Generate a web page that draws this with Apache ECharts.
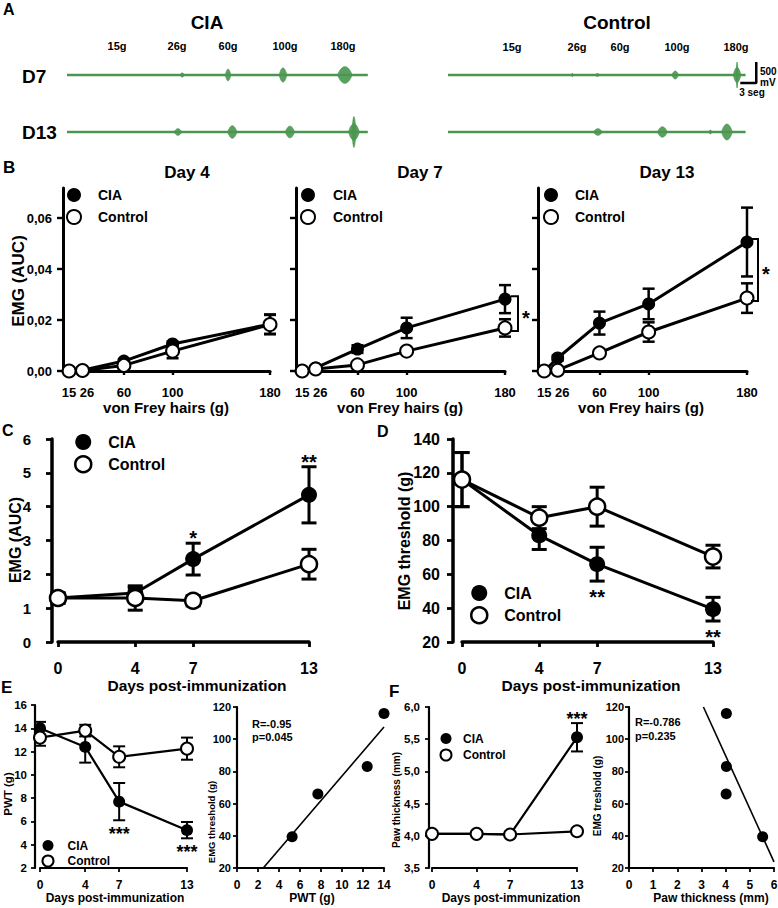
<!DOCTYPE html>
<html><head><meta charset="utf-8">
<script src="https://cdn.jsdelivr.net/npm/echarts@6/dist/echarts.min.js"></script>
<style>html,body{margin:0;padding:0;background:#fff}#c{width:778px;height:908px}</style>
</head><body><div id="c"></div>
<script>
// ================= DATA =================
// Panel A: EMG traces, bursts as [time (s), amplitude (mV), duration (s)]
const ciaTraceSec = 56.4;
const ctlTraceSec = 55.8;
const ciaD7Bursts  = [[21.6, 50, 0.8], [30.2, 140, 1.0], [40.5, 170, 1.4], [52.1, 200, 2.7]];
const ciaD13Bursts = [[20.8, 80, 1.4], [31.0, 150, 1.7], [41.8, 140, 1.7], [53.8, 200, 2.0], [53.8, 370, 0.7]];
const ctlD7Bursts  = [[23.3, 40, 0.3], [28.0, 35, 0.8], [42.6, 95, 1.2], [54.2, 180, 1.4], [54.2, 310, 0.35]];
const ctlD13Bursts = [[28.1, 80, 1.6], [40.2, 125, 1.8], [49.2, 45, 0.6], [52.3, 190, 2.0]];
const forceLabels = ['15g', '26g', '60g', '100g', '180g'];
const scaleBarSec = 3;
const scaleBarMv = 500;

// Panel B: EMG (AUC) vs von Frey hairs
const vonFrey = [15, 26, 60, 100, 180];
const bYTicks = [0, 0.02, 0.04, 0.06];
const day4CIA     = [0, 0.0003, 0.0039, 0.0106, 0.0184];
const day4CIASem  = [0, 0, 0.0007, 0.0010, 0.0038];
const day4Ctl     = [0, 0.0002, 0.0022, 0.0078, 0.0182];
const day4CtlSem  = [0, 0, 0.0005, 0.0028, 0.0038];
const day7CIA     = [0, 0.0012, 0.0086, 0.0169, 0.0282];
const day7CIASem  = [0, 0.0005, 0.0015, 0.0040, 0.0055];
const day7Ctl     = [0, 0.0008, 0.0024, 0.0078, 0.0169];
const day7CtlSem  = [0, 0, 0.0005, 0.0008, 0.0034];
const day13CIA    = [0, 0.0051, 0.0188, 0.0263, 0.0506];
const day13CIASem = [0, 0.0010, 0.0045, 0.0060, 0.0135];
const day13Ctl    = [0, 0.0003, 0.0071, 0.0153, 0.0286];
const day13CtlSem = [0, 0, 0.0008, 0.0038, 0.0058];

// Panels C-F: days post-immunization
const days = [0, 4, 7, 13];
const cCIA = [1.30, 1.45, 2.45, 4.35];
const cCIASem = [0.15, 0.15, 0.47, 0.83];
const cCtl = [1.30, 1.30, 1.22, 2.30];
const cCtlSem = [0.15, 0.36, 0.15, 0.44];
const cStars = ['', '', '*', '**'];

const dCIA = [116, 83, 66, 39.4];
const dCIASem = [16, 8.3, 10, 7];
const dCtl = [116, 93.5, 100, 70.5];
const dCtlSem = [16, 6.5, 11.5, 6.7];
const dStars = ['', '', '**', '**'];

const eCIA = [14.0, 12.4, 7.7, 5.25];
const eCIASem = [0.55, 1.35, 1.6, 0.7];
const eCtl = [13.2, 13.8, 11.55, 12.25];
const eCtlSem = [0.7, 0.5, 0.9, 0.95];
const eStars = ['', '', '***', '***'];

const fCIA = [4.03, 4.03, 4.02, 5.53];
const fCIASem = [0.02, 0.02, 0.02, 0.22];
const fCtl = [4.03, 4.03, 4.02, 4.07];
const fCtlSem = [0.02, 0.02, 0.02, 0.02];
const fStars = ['', '', '', '***'];

// correlations (x: PWT / paw thickness, y: EMG threshold of CIA group)
const regE = [[2.5, 20], [14, 107.6]];
const regF = [[3.08, 120], [6.0, 23.8]];
const corrE = ['R=-0.95', 'p=0.045'];
const corrF = ['R=-0.786', 'p=0.235'];

// ================= BUILD =================
const FONT = "'Liberation Sans', Arial, Helvetica, sans-serif";
const GREEN = '#4a9650';
const grids = [], xAxes = [], yAxes = [], series = [], graphics = [], legends = [];

function addGrid(rect, xa, ya) {
  const idx = grids.length;
  grids.push(Object.assign({containLabel: false, outerBoundsMode: 'none'}, rect));
  xAxes.push(Object.assign({gridIndex: idx}, xa));
  yAxes.push(Object.assign({gridIndex: idx}, ya));
  return idx;
}
function axis(o) {
  const a = {
    type: 'value', min: o.min, max: o.max, position: o.pos, offset: o.offset || 0,
    axisLine: {show: true, onZero: false, lineStyle: {color: '#000', width: o.lw}},
    axisTick: {show: true, inside: false, length: o.tl, lineStyle: {color: '#000', width: o.tw || o.lw * 0.8}},
    axisLabel: {show: o.labels !== false, color: '#000', fontFamily: FONT, fontWeight: 'bold', fontSize: o.fs,
      margin: o.margin, hideOverlap: false, showMinLabel: true, showMaxLabel: true},
    splitLine: {show: false}, silent: true
  };
  if (o.interval) a.interval = o.interval;
  if (o.ticks) { a.axisTick.customValues = o.ticks; a.axisLabel.customValues = o.ticks; }
  if (o.fmt) a.axisLabel.formatter = o.fmt;
  if (o.rich) a.axisLabel.rich = o.rich;
  return a;
}
function hidden(min, max) { return {type: 'value', min, max, show: false}; }
const comma = d => v => v.toFixed(d).replace('.', ',');

// ---- Panel A ----
function burstRender(params, api) {
  const t = api.value(0), amp = api.value(1), dur = api.value(2);
  const c = api.coord([t, 0]);
  const top = api.coord([t, amp]);
  const hw = api.size([dur, 0])[0] / 2;
  const h = c[1] - top[1];
  const pts = [], N = 14;
  for (let k = -N; k <= N; k++) { const u = k / N; pts.push([c[0] + u * hw, c[1] - h * Math.pow(1 - u * u, 0.9)]); }
  for (let k = N; k >= -N; k--) { const u = k / N; pts.push([c[0] + u * hw, c[1] + h * Math.pow(1 - u * u, 0.9)]); }
  return {type: 'polygon', shape: {points: pts}, style: {fill: GREEN, stroke: GREEN, lineWidth: 0.8, opacity: 0.9}};
}
function trace(rect, len, bursts) {
  const g = addGrid(rect, hidden(0, 60), hidden(-480, 480));
  series.push({type: 'line', xAxisIndex: g, yAxisIndex: g, data: [[0, 0], [len, 0]], symbol: 'none',
    lineStyle: {color: GREEN, width: 2.5}, silent: true, z: 2});
  series.push({type: 'custom', xAxisIndex: g, yAxisIndex: g, data: bursts, renderItem: burstRender, silent: true, z: 3});
  return g;
}
trace({left: 67, top: 55, width: 320, height: 40}, ciaTraceSec, ciaD7Bursts);
trace({left: 67, top: 112, width: 320, height: 40}, ciaTraceSec, ciaD13Bursts);
const gCtl7 = trace({left: 448, top: 55, width: 320, height: 40}, ctlTraceSec, ctlD7Bursts);
trace({left: 448, top: 112, width: 320, height: 40}, ctlTraceSec, ctlD13Bursts);
// scale bar
const sbT = ctlTraceSec - 1, sbV = -190;
series.push({type: 'line', xAxisIndex: gCtl7, yAxisIndex: gCtl7, symbol: 'none', silent: true,
  data: [[sbT, sbV], [sbT + scaleBarSec, sbV], [sbT + scaleBarSec, sbV + scaleBarMv]],
  lineStyle: {color: '#000', width: 2.5}, z: 4});

function txt(t, x, y, size, opt) {
  opt = opt || {};
  graphics.push({type: 'text', x, y, rotation: opt.rot || 0, silent: true,
    style: {text: t, fill: '#000', font: (opt.weight || 'bold') + ' ' + size + 'px ' + FONT,
      align: opt.align || 'center', verticalAlign: 'middle'}});
}
txt('A', 3, 9, 16, {align: 'left'});
txt('CIA', 207, 22, 19);
txt('Control', 617, 22, 19);
[117, 177, 228, 285, 343].forEach((x, i) => txt(forceLabels[i], x, 46, 11));
[512, 577, 620, 677, 736].forEach((x, i) => txt(forceLabels[i], x, 47, 11));
txt('D7', 22, 76, 19, {align: 'left'});
txt('D13', 22, 132, 19, {align: 'left'});
txt('500', 760, 71, 10, {align: 'left'});
txt('mV', 760, 82, 10, {align: 'left'});
txt('3 seg', 752, 92, 10);

// ---- helpers for group plots ----
function errRender(cap, lw) {
  return function (params, api) {
    const x = api.value(0), lo = api.value(1), hi = api.value(2);
    const a = api.coord([x, lo]), b = api.coord([x, hi]);
    const h = cap / 2, st = {stroke: '#000', lineWidth: lw};
    return {type: 'group', children: [
      {type: 'line', shape: {x1: a[0], y1: a[1], x2: b[0], y2: b[1]}, style: st},
      {type: 'line', shape: {x1: a[0] - h, y1: a[1], x2: a[0] + h, y2: a[1]}, style: st},
      {type: 'line', shape: {x1: b[0] - h, y1: b[1], x2: b[0] + h, y2: b[1]}, style: st}
    ]};
  };
}
function errData(xs, m, s) {
  const out = [];
  xs.forEach((x, i) => { if (s[i] > 0) out.push([x, m[i] - s[i], m[i] + s[i]]); });
  return out;
}
function group(g, xs, cia, ciaSem, ctl, ctlSem, st) {
  series.push({type: 'custom', xAxisIndex: g, yAxisIndex: g, data: errData(xs, cia, ciaSem), renderItem: errRender(st.cap, st.elw), silent: true, z: 2});
  series.push({type: 'custom', xAxisIndex: g, yAxisIndex: g, data: errData(xs, ctl, ctlSem), renderItem: errRender(st.cap, st.elw), silent: true, z: 2});
  series.push({type: 'line', name: 'CIA', xAxisIndex: g, yAxisIndex: g, data: xs.map((x, i) => [x, cia[i]]),
    symbol: 'circle', symbolSize: st.size, itemStyle: {color: '#000', opacity: 1}, lineStyle: {color: '#000', width: st.lw},
    clip: false, silent: true, z: 3});
  series.push({type: 'line', name: 'Control', xAxisIndex: g, yAxisIndex: g, data: xs.map((x, i) => [x, ctl[i]]),
    symbol: 'circle', symbolSize: st.size, itemStyle: {color: '#fff', borderColor: '#000', borderWidth: st.bw, opacity: 1},
    lineStyle: {color: '#000', width: st.lw}, clip: false, silent: true, z: 4});
}
function stars(g, xs, m, s, labels, dir, gap, fs) {
  series.push({type: 'custom', xAxisIndex: g, yAxisIndex: g, silent: true, z: 5,
    data: xs.map((x, i) => [x, dir === 'above' ? m[i] + s[i] : m[i] - s[i]]),
    renderItem: function (params, api) {
      const lab = labels[params.dataIndex];
      if (!lab) return null;
      const p = api.coord([api.value(0), api.value(1)]);
      return {type: 'text', x: p[0], y: p[1] + (dir === 'above' ? -gap : gap),
        style: {text: lab, fill: '#000', font: 'bold ' + fs + 'px ' + FONT, align: 'center', verticalAlign: 'middle'}};
    }});
}
function bracket(g, x, a, b, dx, fs) {
  series.push({type: 'custom', xAxisIndex: g, yAxisIndex: g, silent: true, z: 5, data: [[x, a, b]],
    renderItem: function (params, api) {
      const p1 = api.coord([api.value(0), api.value(1)]);
      const p2 = api.coord([api.value(0), api.value(2)]);
      const bx = p1[0] + dx, y1 = p1[1] - 3, y2 = p2[1] + 3;
      return {type: 'group', children: [
        {type: 'polyline', shape: {points: [[bx - 7, y1], [bx, y1], [bx, y2], [bx - 7, y2]]}, style: {stroke: '#000', lineWidth: 2, fill: null}},
        {type: 'text', x: bx + 8, y: (y1 + y2) / 2 + 4, style: {text: '*', fill: '#000', font: 'bold ' + fs + 'px ' + FONT, align: 'center', verticalAlign: 'middle'}}
      ]};
    }});
}
function legend(left, top, size, gap, fs, pad, bw) {
  legends.push({show: true, left, top, orient: 'vertical', itemWidth: size, itemHeight: size, itemGap: gap,
    selectedMode: false, padding: 0,
    data: [{name: 'CIA', icon: 'circle', itemStyle: {color: '#000', borderWidth: 0}},
           {name: 'Control', icon: 'circle', itemStyle: {color: '#fff', borderColor: '#000', borderWidth: bw}}],
    textStyle: {color: '#000', fontFamily: FONT, fontWeight: 'bold', fontSize: fs, lineHeight: size, padding: [0, 0, 0, pad]}});
}

// ---- Panel B ----
const stB = {size: 13, lw: 3, cap: 12, elw: 2.5, bw: 2};
const bXfmt = v => (v === 26 ? '{s|26}' : String(v));
const bXrich = {s: {fontFamily: FONT, fontWeight: 'bold', fontSize: 13, color: '#000', padding: [0, 0, 0, 9]}};
const bX = () => axis({min: 10, max: 180, ticks: vonFrey, fmt: bXfmt, rich: bXrich, lw: 3, tl: 4, fs: 13, margin: 15, pos: 'bottom'});
const bY = (labels) => axis({min: 0, max: 0.0718, ticks: bYTicks, labels, fmt: comma(2), lw: 3, tl: 6, fs: 13, margin: 11, pos: 'left'});
const g4 = addGrid({left: 63, top: 188, width: 207, height: 183}, bX(), bY(true));
const g7 = addGrid({left: 296, top: 188, width: 209, height: 183}, bX(), bY(false));
const g13 = addGrid({left: 538, top: 188, width: 209, height: 183}, bX(), bY(false));
group(g4, vonFrey, day4CIA, day4CIASem, day4Ctl, day4CtlSem, stB);
group(g7, vonFrey, day7CIA, day7CIASem, day7Ctl, day7CtlSem, stB);
group(g13, vonFrey, day13CIA, day13CIASem, day13Ctl, day13CtlSem, stB);
bracket(g7, 180, day7CIA[4], day7Ctl[4], 13, 20);
bracket(g13, 180, day13CIA[4], day13Ctl[4], 11, 20);
legend(66, 188, 14, 7, 14, 12, 2);
legend(300, 188, 14, 7, 14, 13, 2);
legend(543, 188, 14, 7, 14, 12, 2);
txt('B', 3, 167, 17, {align: 'left'});
txt('Day 4', 187, 172, 17);
txt('Day 7', 420, 172, 17);
txt('Day 13', 667, 172, 17);
txt('EMG (AUC)', 18, 281, 17, {rot: Math.PI / 2});
txt('von Frey hairs (g)', 166, 407, 15);
txt('von Frey hairs (g)', 400, 407, 15);
txt('von Frey hairs (g)', 641, 407, 15);

// ---- Panel C ----
const stCD = {size: 16, lw: 3, cap: 15, elw: 3, bw: 2.5};
const gC = addGrid({left: 58, top: 439, width: 251, height: 203},
  axis({min: 0, max: 13, ticks: days, lw: 3.5, tl: 5, fs: 16, margin: 18, pos: 'bottom'}),
  axis({min: 0, max: 6, interval: 1, offset: 6, lw: 3.5, tl: 6, fs: 15, margin: 21, pos: 'left'}));
group(gC, days, cCIA, cCIASem, cCtl, cCtlSem, stCD);
stars(gC, days, cCIA, cCIASem, cStars, 'above', 5, 20);
legend(74, 434, 16, 5, 16, 12, 2.5);
txt('C', 2, 430, 16, {align: 'left'});
txt('EMG (AUC)', 15, 540, 16, {rot: Math.PI / 2});
txt('Days post-immunization', 197, 685, 15.5);

// ---- Panel D ----
const gD = addGrid({left: 462, top: 439, width: 251, height: 203},
  axis({min: 0, max: 13, ticks: days, lw: 3.5, tl: 5, fs: 16, margin: 18, pos: 'bottom'}),
  axis({min: 20, max: 140, interval: 20, offset: 9, lw: 3.5, tl: 6, fs: 16, margin: 13, pos: 'left'}));
group(gD, days, dCIA, dCIASem, dCtl, dCtlSem, stCD);
stars(gD, days, dCIA, dCIASem, dStars, 'below', 16, 20);
legend(470, 585, 16, 5, 16, 12, 2.5);
txt('D', 377, 431, 16, {align: 'left'});
txt('EMG threshold (g)', 404, 541, 16, {rot: Math.PI / 2});
txt('Days post-immunization', 591, 685, 15.5);

// ---- Panel E ----
const stEF = {size: 12, lw: 2.2, cap: 12, elw: 2, bw: 2};
const gE = addGrid({left: 40, top: 705, width: 147, height: 163},
  axis({min: 0, max: 13, ticks: days, lw: 2.2, tl: 4, fs: 12, margin: 11, pos: 'bottom'}),
  axis({min: 2, max: 16, interval: 2, offset: 5, lw: 2.2, tl: 4, fs: 11.5, margin: 8, pos: 'left'}));
group(gE, days, eCIA, eCIASem, eCtl, eCtlSem, stEF);
stars(gE, days, eCIA, eCIASem, eStars, 'below', 14, 18);
legend(41.5, 839.5, 11, 3, 12, 9, 2);
const gE2 = addGrid({left: 237, top: 707, width: 147, height: 161},
  axis({min: 0, max: 14, interval: 2, lw: 2.2, tl: 4, fs: 12, margin: 11, pos: 'bottom'}),
  axis({min: 20, max: 120, interval: 20, lw: 2.2, tl: 4, fs: 11, margin: 6, pos: 'left'}));
series.push({type: 'line', xAxisIndex: gE2, yAxisIndex: gE2, data: regE, symbol: 'none', silent: true,
  lineStyle: {color: '#000', width: 1.6}, z: 2});
series.push({type: 'scatter', xAxisIndex: gE2, yAxisIndex: gE2, data: eCIA.map((x, i) => [x, dCIA[i]]),
  symbolSize: 11, itemStyle: {color: '#000', opacity: 1}, silent: true, z: 3});
txt('E', 1, 687, 17, {align: 'left'});
txt('PWT (g)', 8, 794, 11.5, {rot: Math.PI / 2});
txt('Days post-immunization', 115, 898, 12);
txt('EMG threshold (g)', 211, 822, 9.5, {rot: Math.PI / 2});
txt('PWT (g)', 312, 898, 12);
txt(corrE[0], 252, 724, 11, {align: 'left'});
txt(corrE[1], 252, 737, 11, {align: 'left'});

// ---- Panel F ----
const gF = addGrid({left: 432, top: 707, width: 145, height: 161},
  axis({min: 0, max: 13, ticks: days, lw: 2.2, tl: 4, fs: 12, margin: 11, pos: 'bottom'}),
  axis({min: 3.5, max: 6, interval: 0.5, offset: 3, fmt: comma(1), lw: 2.2, tl: 4, fs: 11.5, margin: 9, pos: 'left'}));
group(gF, days, fCIA, fCIASem, fCtl, fCtlSem, stEF);
stars(gF, days, fCIA, fCIASem, fStars, 'above', 4, 18);
legend(439.5, 732.5, 11, 4, 12, 6.5, 2);
const gF2 = addGrid({left: 629, top: 707, width: 145, height: 161},
  axis({min: 0, max: 6, interval: 1, lw: 2.2, tl: 4, fs: 12, margin: 11, pos: 'bottom'}),
  axis({min: 20, max: 120, interval: 20, lw: 2.2, tl: 4, fs: 11, margin: 5, pos: 'left'}));
series.push({type: 'line', xAxisIndex: gF2, yAxisIndex: gF2, data: regF, symbol: 'none', silent: true,
  lineStyle: {color: '#000', width: 1.6}, z: 2});
series.push({type: 'scatter', xAxisIndex: gF2, yAxisIndex: gF2, data: fCIA.map((x, i) => [x, dCIA[i]]),
  symbolSize: 11, itemStyle: {color: '#000', opacity: 1}, silent: true, z: 3});
txt('F', 389, 691, 17, {align: 'left'});
txt('Paw thickness (mm)', 396, 800, 10, {rot: Math.PI / 2});
txt('Days post-immunization', 511, 898, 12);
txt('EMG treshold (g)', 597, 796, 10, {rot: Math.PI / 2});
txt('Paw thickness (mm)', 711, 898, 12);
txt(corrF[0], 635, 722, 11, {align: 'left'});
txt(corrF[1], 635, 736, 11, {align: 'left'});

const chart = echarts.init(document.getElementById('c'), null, {renderer: 'svg'});
chart.setOption({
  animation: false,
  backgroundColor: '#fff',
  textStyle: {fontFamily: FONT},
  grid: grids, xAxis: xAxes, yAxis: yAxes, legend: legends, series: series, graphic: graphics
});
</script>
</body></html>
